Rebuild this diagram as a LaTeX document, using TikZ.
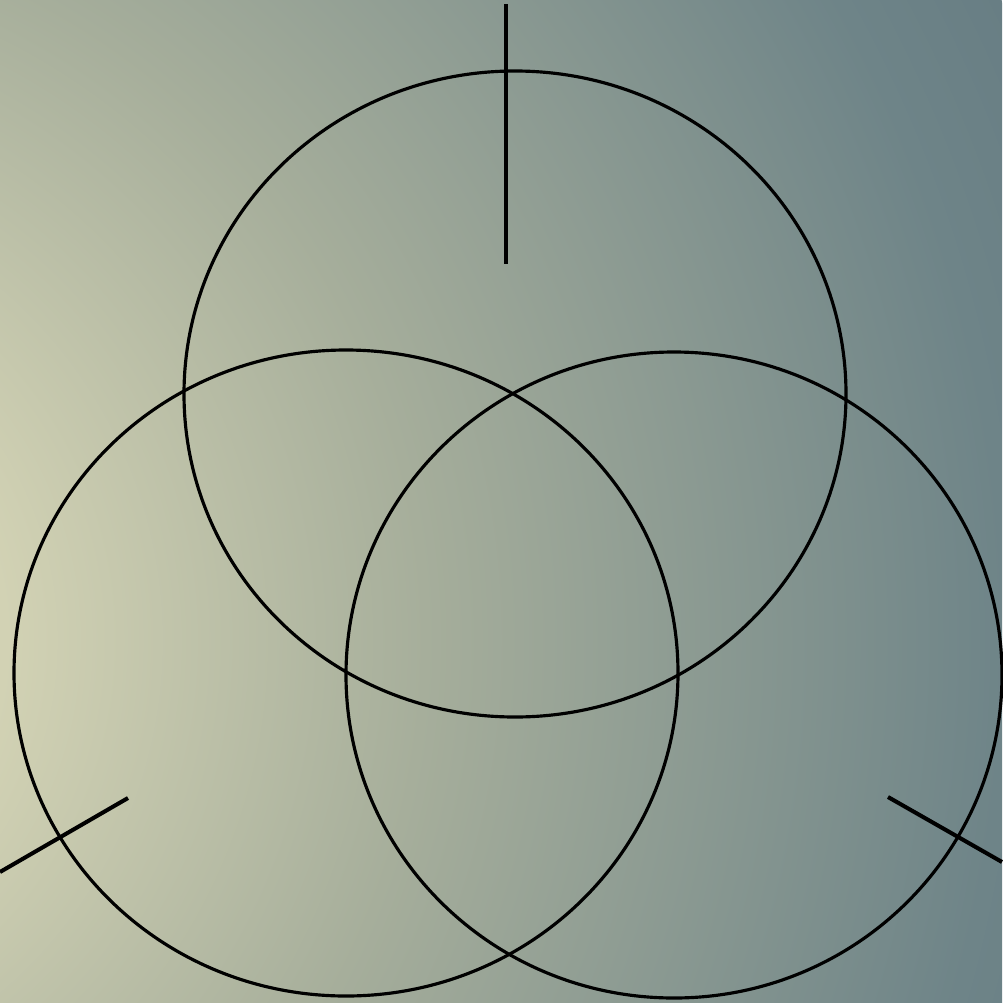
\documentclass[tikz,border=0pt]{standalone}
\usepackage{tikz}
\usepackage{xcolor}
\definecolor{cGlow}{RGB}{224,224,192}
\definecolor{cBgLeft}{RGB}{210,210,180}
\definecolor{cBgSage}{RGB}{166,174,155}
\definecolor{cBgSlate}{RGB}{110,132,136}
\definecolor{cBgRight}{RGB}{104,126,132}
\pgfdeclareradialshading{bgglow}{\pgfpoint{0bp}{0bp}}{%
	color(0bp)=(cGlow); color(5.25bp)=(cBgLeft); color(12.5bp)=(cBgSage);
	color(22.5bp)=(cBgSlate); color(25bp)=(cBgRight); color(50bp)=(cBgRight)}
\tikzset{
	ring/.style={draw=black, line width=0.9pt},
	spoke/.style={draw=black, line width=1.15pt},
}
\begin{document}
\begin{tikzpicture}[x=0.01cm, y=-0.01cm]
	% background
	\useasboundingbox (0,0) rectangle (1002,1003);
	\begin{scope}
		\clip (0,0) rectangle (1002,1003);
		\shade[shading=bgglow] (-300,640) circle [radius=1450];
	\end{scope}
	% circles
	\draw[ring] (515,394) ellipse [x radius=331, y radius=323];
	\draw[ring] (346,673) ellipse [x radius=332, y radius=323];
	\draw[ring] (674,675) ellipse [x radius=328, y radius=323];
	% spokes
	\coordinate (topout) at (506,4);
	\coordinate (topin) at (506,264);
	\coordinate (leftout) at (0,872);
	\coordinate (leftin) at (128,798);
	\coordinate (rightout) at (1002,862);
	\coordinate (rightin) at (888,797);
	\draw[spoke] (topout) -- (topin);
	\draw[spoke] (leftout) -- (leftin);
	\draw[spoke] (rightout) -- (rightin);
\end{tikzpicture}
\end{document}
